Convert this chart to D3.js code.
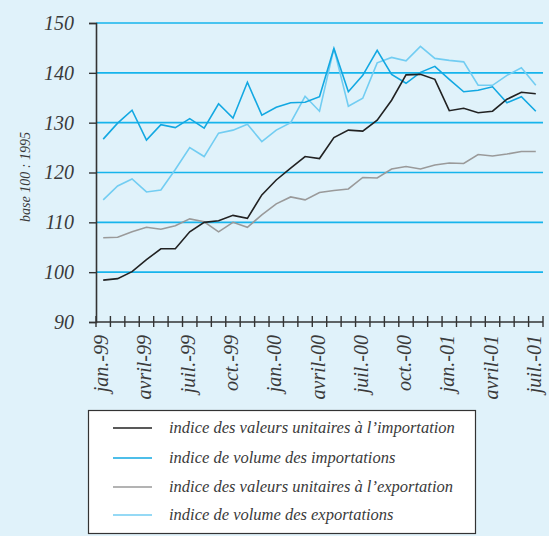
<!DOCTYPE html>
<html><head><meta charset="utf-8">
<script src="https://cdn.jsdelivr.net/npm/d3@7"></script>
</head>
<body style="margin:0;padding:0;background:#e0f2fa;"><svg id="c" width="549" height="536" style="display:block"></svg>
<script>
const months = ["jan.-99","févr.-99","mars-99","avril-99","mai-99","juin-99","juil.-99","août-99","sept.-99","oct.-99","nov.-99","déc.-99",
"jan.-00","févr.-00","mars-00","avril-00","mai-00","juin-00","juil.-00","août-00","sept.-00","oct.-00","nov.-00","déc.-00",
"jan.-01","févr.-01","mars-01","avril-01","mai-01","juin-01","juil.-01"];
const tickLabels = ["jan.-99","avril-99","juil.-99","oct.-99","jan.-00","avril-00","juil.-00","oct.-00","jan.-01","avril-01","juil.-01"];
const yTicks = [90,100,110,120,130,140,150];

const importUnitValue = [98.4,98.7,100.1,102.5,104.7,104.7,108.1,110.0,110.3,111.4,110.8,115.5,118.5,120.9,123.2,122.8,127.0,128.5,128.3,130.5,134.5,139.6,139.7,138.7,132.4,132.9,132.0,132.3,134.7,136.1,135.8];
const importVolume = [126.7,129.9,132.5,126.5,129.6,129.0,130.8,128.9,133.8,130.9,138.1,131.5,133.1,134.0,134.1,135.2,144.9,136.2,139.5,144.5,139.7,137.9,140.1,141.3,138.7,136.2,136.5,137.2,134.0,135.2,132.3];
const exportUnitValue = [106.9,107.0,108.1,109.0,108.6,109.3,110.7,110.1,108.1,110.0,109.0,111.5,113.7,115.1,114.5,116.0,116.4,116.7,119.0,118.9,120.7,121.2,120.7,121.5,121.9,121.8,123.6,123.3,123.7,124.2,124.2];
const exportVolume = [114.5,117.3,118.7,116.1,116.5,120.6,125.0,123.2,127.9,128.5,129.7,126.2,128.5,130.0,135.3,132.3,144.9,133.3,134.9,142.0,143.1,142.4,145.3,142.9,142.5,142.2,137.5,137.5,139.5,141.0,137.5];

const seriesNames = ["indice des valeurs unitaires à l’importation","indice de volume des importations","indice des valeurs unitaires à l’exportation","indice de volume des exportations"];
const seriesColors = ["#222222","#12a8e2","#9a9a9a","#72cdf2"];
const seriesData = [importUnitValue, importVolume, exportUnitValue, exportVolume];

const TXT = "#3a3a3a";
const svg = d3.select("#c");
const L = 96, R = 543, T = 23, B = 322;

function serif(sel, size) {
  return sel.attr("font-family", "Liberation Serif").attr("font-style", "italic")
    .attr("font-size", size).attr("fill", TXT)
    .style("font-family", "'Liberation Serif'").style("font-style", "italic");
}

const x = d3.scaleBand().domain(months).range([L, R]).paddingInner(0).paddingOuter(0);
const y = d3.scaleLinear().domain([90,150]).range([B, T]);
const cx = m => x(m) + x.bandwidth()/2;

svg.append("g").selectAll("line").data(yTicks.filter(v => v > 90)).join("line")
  .attr("x1", L).attr("x2", R).attr("y1", d => y(d)).attr("y2", d => y(d))
  .attr("stroke", "#16b4ec").attr("stroke-width", 1.6);

const line = d3.line().x((d,i) => cx(months[i])).y(d => y(d));
[2,3,1,0].forEach(k => {
  svg.append("path").datum(seriesData[k]).attr("d", line)
    .attr("fill","none").attr("stroke", seriesColors[k]).attr("stroke-width", 1.6)
    .attr("stroke-linejoin","miter");
});

const yAxis = d3.axisLeft(y).tickValues(yTicks).tickSize(7).tickPadding(15);
const gy = svg.append("g").attr("transform", `translate(${L},0)`).call(yAxis)
  .attr("font-family", "Liberation Serif");
gy.select(".domain").attr("stroke","#333").attr("stroke-width",1.6);
gy.selectAll(".tick line").attr("stroke","#333").attr("stroke-width",1.4);
serif(gy.selectAll(".tick text"), 20);

const edges = months.map(m => x(m)).concat([x.range()[1]]);
const gx = svg.append("g");
gx.append("line").attr("x1", L).attr("x2", R).attr("y1", B).attr("y2", B).attr("stroke","#333").attr("stroke-width",1.6);
gx.selectAll("line.t").data(edges).join("line").attr("class","t")
  .attr("x1", d => d).attr("x2", d => d).attr("y1", B-6).attr("y2", B+5)
  .attr("stroke","#333").attr("stroke-width",1.4);
serif(gx.selectAll("text").data(tickLabels).join("text")
  .attr("transform", d => `translate(${cx(d)+5},${B+13}) rotate(-90)`)
  .attr("text-anchor","end"), 20).text(d => d);

serif(svg.append("text").attr("transform","translate(30,177) rotate(-90)")
  .attr("text-anchor","middle"), 14).text("base 100 : 1995");

const lg = svg.append("g");
lg.append("rect").attr("x",88.5).attr("y",410.5).attr("width",387).attr("height",123)
  .attr("fill","#ffffff").attr("stroke","#333").attr("stroke-width",1.2);
const rowY = [428,458,487,515];
seriesNames.forEach((n,i) => {
  lg.append("line").attr("x1",113).attr("x2",152).attr("y1",rowY[i]).attr("y2",rowY[i])
    .attr("stroke",seriesColors[i]).attr("stroke-width",1.6);
  serif(lg.append("text").attr("x",169).attr("y",rowY[i]+5), 16.5).text(n);
});
</script></body></html>
